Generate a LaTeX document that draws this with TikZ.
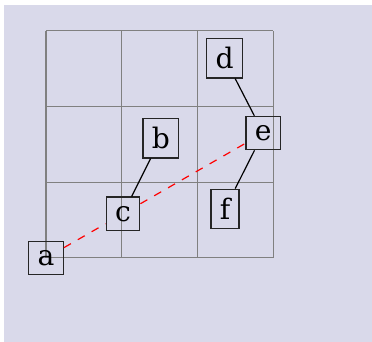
\documentclass[tikz,border=0pt]{standalone}
\usepackage{fontspec}
\setmainfont{DejaVu Serif}
\definecolor{bgcol}{RGB}{217,217,234}
\begin{document}
\begin{tikzpicture}[x=1cm,y=1cm,
  vbox/.style={draw=black!85, line width=0.5pt, inner sep=0.3333em, font=\fontsize{10.6pt}{12pt}\selectfont},
  link/.style={draw=black, line width=0.45pt},
  redlink/.style={draw=red, dashed, line width=0.45pt}]
\useasboundingbox (-0.608,-1.110) rectangle (4.307,3.408);
\fill[bgcol] (-0.555,-1.110) rectangle (4.307,3.342);
\draw[gray, line width=0.4pt, step=1] (0,0) grid (3,3);
\node[vbox] (a) at (0,0) {a};
\node[vbox] (c) at (1.017,0.584) {c};
\node[vbox] (b) at (1.517,1.583) {b};
\node[vbox] (d) at (2.36,2.64) {d};
\node[vbox] (e) at (2.87,1.65) {e};
\node[vbox] (f) at (2.365,0.65) {f};
\draw[link] (d) -- (e);
\draw[link] (e) -- (f);
\draw[link] (b) -- (c);
\draw[redlink] (a) -- (c);
\draw[redlink] (c) -- (e);
\end{tikzpicture}
\end{document}
